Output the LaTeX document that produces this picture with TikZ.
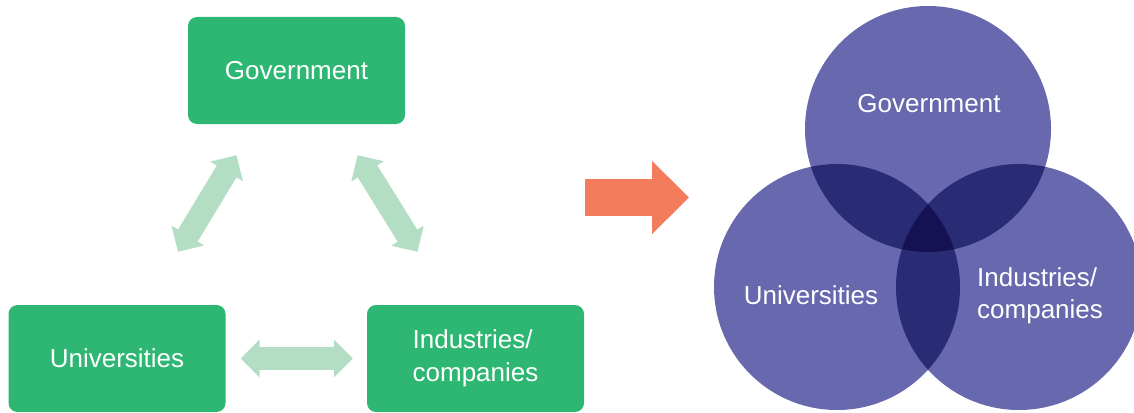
\documentclass[tikz,border=0pt]{standalone}
\usepackage{fontspec}
\setmainfont{Liberation Sans}
\usetikzlibrary{arrows.meta,calc}
\definecolor{boxgreen}{RGB}{45,183,115}
\definecolor{palegreen}{RGB}{180,222,196}
\definecolor{arroworange}{RGB}{242,124,92}
\definecolor{vennpurple}{RGB}{104,104,175}
\definecolor{venndark}{RGB}{42,43,117}
\definecolor{venndarkest}{RGB}{20,18,82}

\begin{document}
\begin{tikzpicture}[x=1pt,y=-1pt]
\useasboundingbox (0,0) rectangle (1134,412);

\begin{scope}[every node/.style={rectangle,rounded corners=9pt,fill=boxgreen,text=white,
              minimum width=217pt,minimum height=107pt,font=\fontsize{26}{33}\selectfont}]
    \node (G) at (296.5,70.5) {Government};
    \node (U) at (117,358.5) {Universities};
    \node (I)[align=left] at (475.5,358.5) {Industries/\\companies};
\end{scope}

\begin{scope}[palegreen,line width=23pt,
              {Triangle[length=19pt,width=37pt]}-{Triangle[length=19pt,width=37pt]}]
    \draw ($(G.south)+(-60,31)$) -- ($(U.north)+(61,-53)$);
    \draw ($(G.south)+(61,31)$) -- ($(I.north)+(-58,-53)$);
    \draw[shorten <=15pt,shorten >=14pt] (U) -- (I);
\end{scope}

\coordinate (P) at (585,197.5);
\coordinate (Q) at (689,197.5);
\draw[arroworange,line width=37pt,-{Triangle[length=37pt,width=71pt]}] (P) -- (Q);

\coordinate (CG) at (928,129);
\coordinate (CU) at (837,287);
\coordinate (CI) at (1019,287);
\fill[vennpurple] (CG) circle (123) (CU) circle (123) (CI) circle (123);
\begin{scope}
    \clip (CG) circle (123);
    \fill[venndark] (CU) circle (123) (CI) circle (123);
\end{scope}
\begin{scope}
    \clip (CU) circle (123);
    \fill[venndark] (CI) circle (123);
    \clip (CG) circle (123);
    \fill[venndarkest] (CI) circle (123);
\end{scope}

\begin{scope}[every node/.style={text=white,font=\fontsize{26}{32}\selectfont}]
    \node (VG) at (929,104) {Government};
    \node (VU) at (811,295) {Universities};
    \node (VI)[align=left,anchor=west,inner sep=0pt] at (977,296) {Industries/\\companies};
\end{scope}
\end{tikzpicture}
\end{document}
